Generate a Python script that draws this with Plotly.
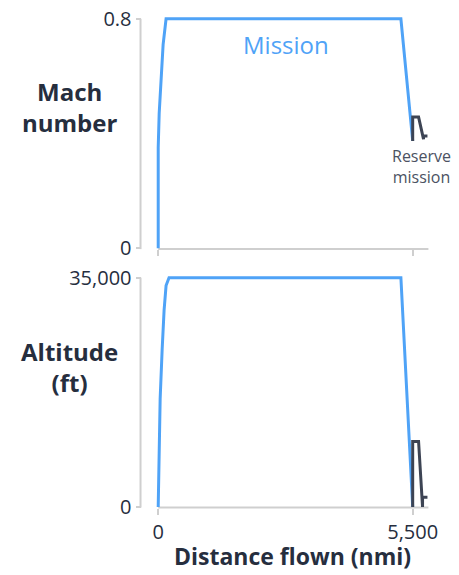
import plotly.graph_objects as go

# ---- data (distance flown in nmi) ----
mission_dist_mach = [0, 0, 21, 64, 106, 170, 5245, 5500]
mission_mach = [0, 0.35, 0.47, 0.61, 0.71, 0.8, 0.8, 0.374]
reserve_dist_mach = [5500, 5500, 5627, 5734, 5734, 5819]
reserve_mach = [0.374, 0.457, 0.457, 0.38, 0.391, 0.391]

mission_dist_alt = [0, 21, 42, 85, 127, 170, 234, 5245, 5500]
mission_alt = [0, 10500, 16500, 24000, 30000, 33800, 35000, 35000, 0]
reserve_dist_alt = [5500, 5500, 5627, 5713, 5713, 5819]
reserve_alt = [0, 10000, 10000, 0, 1500, 1500]

x_ticks = [0, 5500]
x_ticktext = ["0", "5,500"]
mach_ticks = [0, 0.8]
mach_ticktext = ["0", "0.8"]
alt_ticks = [0, 35000]
alt_ticktext = ["0", "35,000"]

# ---- page geometry ----
W, H = 459, 575
BLUE = "#4fa3f7"
DARK = "#3d4454"
TEXT = "#262e3e"
AXIS = "#cfcfcf"
FONT = "Open Sans"


def px(x):
    return x / W


def py(y):
    return 1 - y / H


def domain_for(lo_px, hi_px, lo_val, hi_val, rng):
    """Pixel span of an axis where lo_val sits at lo_px and hi_val at hi_px."""
    scale = (hi_px - lo_px) / (hi_val - lo_val)
    a = lo_px + (rng[0] - lo_val) * scale
    b = lo_px + (rng[1] - lo_val) * scale
    return a, b


# x: 0 -> 160px, 5500 -> 419px
x_range = [-100, 5900]
xa, xb = domain_for(160, 419, 0, 5500, x_range)
x_dom = [px(xa), px(xb)]

# mach: 0 -> 247px, 0.8 -> 14px
mach_range = [-0.03, 0.83]
ma, mb = domain_for(247, 14, 0, 0.8, mach_range)
mach_dom = [py(ma), py(mb)]

# altitude: 0 -> 510px, 35000 -> 277px
alt_range = [-1300, 36300]
aa, ab = domain_for(510, 277, 0, 35000, alt_range)
alt_dom = [py(aa), py(ab)]

fig = go.Figure()

fig.add_trace(go.Scatter(x=mission_dist_mach, y=mission_mach, mode="lines",
                         line=dict(color=BLUE, width=3), xaxis="x", yaxis="y",
                         hoverinfo="skip"))
fig.add_trace(go.Scatter(x=reserve_dist_mach, y=reserve_mach, mode="lines",
                         line=dict(color=DARK, width=3), xaxis="x", yaxis="y",
                         hoverinfo="skip"))
fig.add_trace(go.Scatter(x=mission_dist_alt, y=mission_alt, mode="lines",
                         line=dict(color=BLUE, width=3), xaxis="x2", yaxis="y2",
                         hoverinfo="skip"))
fig.add_trace(go.Scatter(x=reserve_dist_alt, y=reserve_alt, mode="lines",
                         line=dict(color=DARK, width=3), xaxis="x2", yaxis="y2",
                         hoverinfo="skip"))

tick_font = dict(family=FONT, size=20, color=TEXT)
common_x = dict(range=x_range, domain=x_dom, showgrid=False, zeroline=False,
                showline=False, ticks="outside", ticklen=6, tickwidth=2,
                tickcolor=AXIS, tickvals=x_ticks, ticktext=x_ticktext,
                tickfont=tick_font, anchor="free", fixedrange=True)
common_y = dict(showgrid=False, zeroline=False, showline=False, ticks="outside",
                ticklen=5, tickwidth=2, tickcolor=AXIS, tickfont=tick_font,
                anchor="free", position=px(142), fixedrange=True)

fig.update_layout(
    width=W, height=H,
    margin=dict(l=0, r=0, t=0, b=0),
    paper_bgcolor="white", plot_bgcolor="white",
    showlegend=False,
    font=dict(family=FONT, color=TEXT),
    xaxis=dict(common_x, position=py(248), showticklabels=False),
    xaxis2=dict(common_x, position=py(510.5), showticklabels=True,
                ticklabelstandoff=0),
    yaxis=dict(common_y, range=mach_range, domain=mach_dom,
               tickvals=mach_ticks, ticktext=mach_ticktext),
    yaxis2=dict(common_y, range=alt_range, domain=alt_dom,
                tickvals=alt_ticks, ticktext=alt_ticktext),
)

# axis lines, offset from the data area
line_style = dict(color=AXIS, width=2)
for x0, y0, x1, y1 in [(142, 14, 142, 248), (160, 248, 435, 248),
                       (142, 277, 142, 510.5), (160, 510.5, 435, 510.5)]:
    fig.add_shape(type="line", xref="paper", yref="paper",
                  x0=px(x0), y0=py(y0), x1=px(x1), y1=py(y1),
                  line=line_style, layer="below")


def label(text, x, y, size, color=TEXT, bold=False):
    fig.add_annotation(text=f"<b>{text}</b>" if bold else text,
                       xref="paper", yref="paper", x=px(x), y=py(y),
                       xanchor="center", yanchor="middle", showarrow=False,
                       font=dict(family=FONT, size=size, color=color))


label("Mach<br>number", 70, 104, 24, bold=True)
label("Altitude<br>(ft)", 70, 368, 24, bold=True)
label("Mission", 290, 40, 24, color=BLUE)
label("Reserve<br>mission", 428, 164, 16, color="#4b5262")
label("Distance flown (nmi)", 297, 560, 23, bold=True)

fig.write_html("out.html")
